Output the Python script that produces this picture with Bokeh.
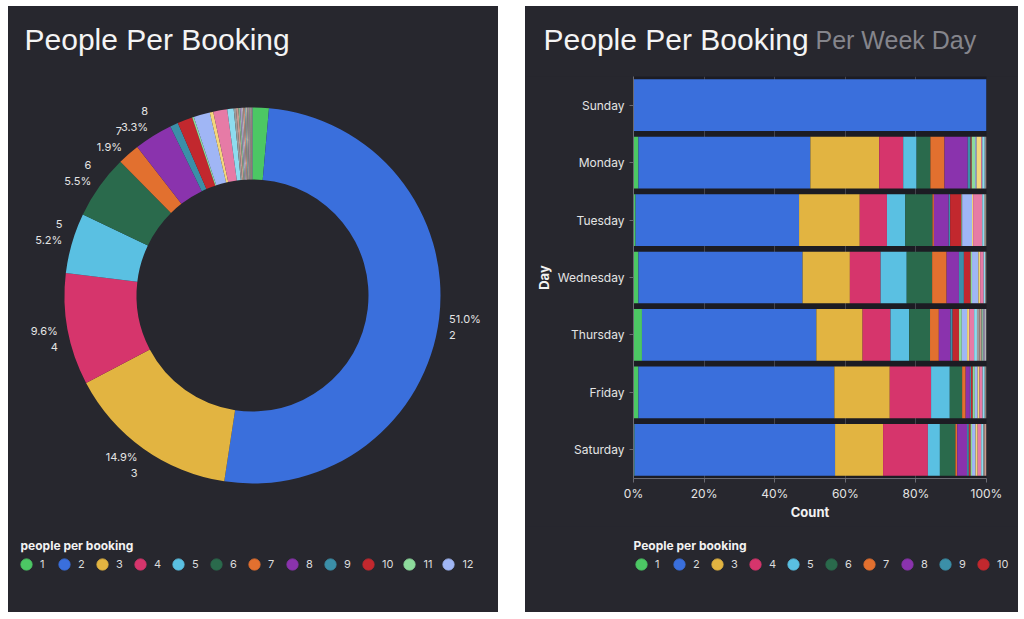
import math
import numpy as np
from bokeh.plotting import figure
from bokeh.models import (ColumnDataSource, Range1d, Label, Legend, LegendItem,
                          FactorRange, PrintfTickFormatter, FixedTicker, Spacer)
from bokeh.layouts import row, column
from bokeh.embed import file_html
from bokeh.resources import INLINE
from bokeh.core.properties import value

PAGE_BG = "#16161d"
PANEL_BG = "#27272e"
FRAME_BG = "#1c1c23"
TEXT = "#e4e4e4"
FONT = "Inter"
TITLE_FONT = "Liberation Sans"

# ---------------- data ----------------
people = [str(i) for i in range(1, 30)]
share = [1.4, 51.0, 14.9, 9.6, 5.2, 5.5, 1.9, 3.3, 0.7, 1.3, 0.15, 1.4, 0.3, 1.2, 0.55,
         0.2, 0.2, 0.15, 0.15, 0.12, 0.12, 0.1, 0.1, 0.1, 0.08, 0.08, 0.07, 0.07, 0.06]

palette = ["#4cc764", "#3a6fdc", "#e2b441", "#d6356c", "#5ac0e2", "#2a6a4c", "#e2702f",
           "#8a33ad", "#3b8fa8", "#c2282e", "#8ddb9c", "#a0b6f5", "#f3d67b", "#e67ba6",
           "#8edcef", "#9c9c9c", "#c79a8f", "#86b596", "#a99ac4", "#b3b3b3", "#cf8f7a",
           "#7fa6b5", "#b8b39a", "#8f8f99", "#c4a3b8", "#93a88a", "#a7a7a7", "#b98c8c",
           "#8e9fb8"]

days = ["Sunday", "Monday", "Tuesday", "Wednesday", "Thursday", "Friday", "Saturday"]
cats = [str(i) for i in range(1, 21)]
# percent of bookings per day, by people-per-booking (Sunday..Saturday)
day_share = {
    "1":  [0.0, 1.4, 0.6, 1.4, 2.4, 1.4, 0.3],
    "2":  [100.0, 48.7, 46.3, 46.5, 49.4, 55.5, 56.8],
    "3":  [0.0, 19.5, 17.2, 13.4, 13.1, 15.7, 13.6],
    "4":  [0.0, 6.8, 7.7, 8.7, 7.9, 11.7, 12.7],
    "5":  [0.0, 3.8, 5.2, 7.4, 5.3, 5.3, 3.4],
    "6":  [0.0, 3.9, 7.7, 7.2, 5.9, 3.5, 4.4],
    "7":  [0.0, 4.0, 0.4, 4.1, 2.5, 1.0, 0.5],
    "8":  [0.0, 6.6, 4.2, 3.5, 3.3, 1.2, 2.8],
    "9":  [0.0, 0.8, 0.4, 1.4, 0.6, 0.3, 0.5],
    "10": [0.0, 0.3, 3.2, 1.9, 1.8, 0.5, 0.5],
    "11": [0.0, 1.0, 0.2, 0.4, 0.8, 0.6, 0.4],
    "12": [0.0, 0.4, 2.8, 1.8, 1.5, 0.8, 1.0],
    "13": [0.0, 1.3, 0.3, 0.5, 0.6, 0.5, 0.6],
    "14": [0.0, 0.3, 2.6, 1.0, 1.4, 0.9, 1.0],
    "15": [0.0, 0.7, 0.5, 0.4, 0.8, 0.6, 0.6],
    "16": [0.0, 0.3, 0.3, 0.2, 0.7, 0.2, 0.3],
    "17": [0.0, 0.2, 0.2, 0.1, 0.6, 0.2, 0.6],
    "18": [0.0, 0.0, 0.2, 0.1, 0.5, 0.1, 0.0],
    "19": [0.0, 0.0, 0.0, 0.0, 0.4, 0.0, 0.0],
    "20": [0.0, 0.0, 0.0, 0.0, 0.5, 0.0, 0.0],
}


def noalign(p):
    if "frame_align" in p.properties():
        p.frame_align = False


def canvas_fig(w, h):
    f = figure(width=w, height=h, x_range=Range1d(0, w), y_range=Range1d(0, h),
               output_backend="svg", toolbar_location=None, min_border=0,
               x_axis_type=None, y_axis_type=None,
               background_fill_color=PANEL_BG, border_fill_color=PANEL_BG,
               outline_line_color=None, styles={"background-color": PANEL_BG})
    f.grid.visible = False
    noalign(f)
    return f


def add_legend(fig, names, colors, title, x0, title_x):
    items = []
    for name, col in zip(names, colors):
        r = fig.scatter(x=np.array([np.nan]), y=np.array([np.nan]), marker="circle",
                        size=11, color=col)
        items.append(LegendItem(label=name, renderers=[r]))
    fig.add_layout(Legend(items=items, orientation="horizontal", location=(x0, 34),
                          label_text_font=FONT, label_text_font_size="11px",
                          label_text_color="#dcdcdc", glyph_width=28, glyph_height=28,
                          label_standoff=0, spacing=2, padding=0, margin=0,
                          label_width=8, label_height=12,
                          background_fill_alpha=0, border_line_alpha=0))
    fig.add_layout(Label(x=title_x, y=67, text=title, text_font=FONT,
                         text_font_size="12px", text_font_style="bold",
                         text_color="#f2f2f2", text_baseline="middle"))


H = 606
# ---------------- left: donut ----------------
W1 = 490
p1 = canvas_fig(W1, H)

cx, cy, r_in, r_out = 244, 317, 116, 188
total = sum(share)
starts, ends = [], []
acc = 0.0
for v in share:
    t0 = 2 * math.pi * acc / total
    acc += v
    t1 = 2 * math.pi * acc / total
    starts.append(math.pi / 2 - t0)
    ends.append(math.pi / 2 - t1)

wsrc = ColumnDataSource(dict(people=people, share=share, start=starts, end=ends,
                             color=palette[:len(share)]))
p1.annular_wedge(x=cx, y=cy, inner_radius=r_in, outer_radius=r_out,
                 start_angle="start", end_angle="end", direction="clock",
                 color="color", line_color=None, source=wsrc)

lx, ly, lalign, cxs, cys = [], [], [], [], []
ptxt, ctxt = [], []
for v, name, a0, a1 in zip(share, people, starts, ends):
    if v / total * 100 < 1.5:
        continue
    t = math.pi / 2 - (a0 + a1) / 2
    ax = cx + (r_out + 10) * math.sin(t)
    ay = cy + (r_out + 10) * math.cos(t)
    lx.append(ax)
    ly.append(ay)
    lalign.append("left" if math.sin(t) > 0 else "right")
    cxs.append(ax)
    cys.append(ay - 16 if math.cos(t) < 0 else ay + 16)
    ptxt.append(f"{v / total * 100:.1f}%")
    ctxt.append(name)

lsrc = ColumnDataSource(dict(x=lx, y=ly, cx=cxs, cy=cys, align=lalign, p=ptxt, c=ctxt))
p1.text(x="x", y="y", text="p", text_align="align", text_baseline="middle",
        text_font=value(FONT), text_font_size="11px", text_color=TEXT, source=lsrc)
p1.text(x="cx", y="cy", text="c", text_align="align", text_baseline="middle",
        text_font=value(FONT), text_font_size="11px", text_color=TEXT, source=lsrc)

p1.add_layout(Label(x=16, y=H - 33, text="People Per Booking", text_font=TITLE_FONT,
                    text_font_size="30px", text_color="#f4f4f4",
                    text_baseline="middle"))

add_legend(p1, people[:12], palette[:12], "people per booking", 4, 12)

# ---------------- right: header / stacked bars / legend ----------------
W2 = 493
HEAD = 70
PLOT_H = 450
FOOT = H - HEAD - PLOT_H

h2 = canvas_fig(W2, HEAD)
h2.add_layout(Label(x=18, y=HEAD - 33, text="People Per Booking", text_font=TITLE_FONT,
                    text_font_size="30px", text_color="#f4f4f4",
                    text_baseline="middle"))
h2.add_layout(Label(x=290, y=HEAD - 33, text="Per Week Day", text_font=TITLE_FONT,
                    text_font_size="25px", text_color="#85858c",
                    text_baseline="middle"))

p2 = figure(width=W2, height=PLOT_H, y_range=FactorRange(*days[::-1]),
            x_range=Range1d(0, 100),
            output_backend="svg", toolbar_location=None,
            min_border_left=108, min_border_right=32, min_border_top=0,
            min_border_bottom=PLOT_H - 402,
            background_fill_color=FRAME_BG, border_fill_color=PANEL_BG,
            outline_line_color=None, styles={"background-color": PANEL_BG})
noalign(p2)

src2 = dict(day=days)
for c in cats:
    src2[c] = day_share[c]
p2.hbar_stack(cats, y="day", height=0.9, color=palette[:len(cats)], line_color=None,
              source=ColumnDataSource(src2))

p2.xaxis.ticker = FixedTicker(ticks=[0, 20, 40, 60, 80, 100])
p2.xaxis.formatter = PrintfTickFormatter(format="%d%%")
p2.xaxis.axis_label = "Count"
p2.yaxis.axis_label = "Day"
for ax in (p2.xaxis, p2.yaxis):
    ax.axis_line_color = "#6a6a72"
    ax.major_tick_line_color = "#6a6a72"
    ax.minor_tick_line_color = None
    ax.major_tick_out = 4
    ax.major_tick_in = 0
    ax.major_label_text_color = TEXT
    ax.major_label_text_font = FONT
    ax.major_label_text_font_size = "12px"
    ax.axis_label_text_color = "#f2f2f2"
    ax.axis_label_text_font = FONT
    ax.axis_label_text_font_size = "13px"
    ax.axis_label_text_font_style = "bold"
p2.yaxis.axis_label_standoff = 3
p2.xaxis.axis_label_standoff = 0
p2.xaxis.major_label_standoff = 3
p2.xgrid.grid_line_color = "#44444c"
p2.ygrid.grid_line_color = None

l2 = canvas_fig(W2, FOOT)
add_legend(l2, cats[:10], palette[:10], "People per booking", 102, 108)

right = column(h2, p2, l2, spacing=0)
layout = column(Spacer(height=6),
                row(Spacer(width=8), p1, Spacer(width=27), right, spacing=0),
                spacing=0)
html = file_html(layout, INLINE, title="People Per Booking")
html = html.replace(
    "<body>",
    f'<body style="background-color:{PAGE_BG};">', 1)
open("out.html", "w").write(html)
